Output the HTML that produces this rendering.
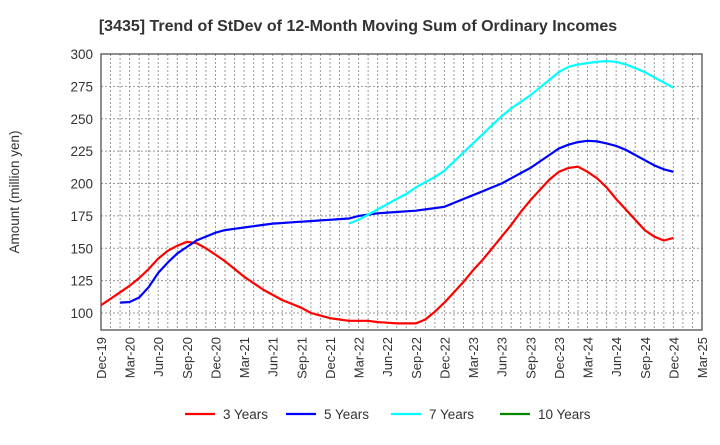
<!DOCTYPE html>
<html><head><meta charset="utf-8"><style>
body{margin:0;background:#fff;font-family:"Liberation Sans",sans-serif}
svg text{font-family:"Liberation Sans",sans-serif;fill:#333}
</style></head><body>
<svg id="c" width="720" height="440"></svg>
<script>
const xLabels=["Dec-19","Mar-20","Jun-20","Sep-20","Dec-20","Mar-21","Jun-21","Sep-21","Dec-21","Mar-22","Jun-22","Sep-22","Dec-22","Mar-23","Jun-23","Sep-23","Dec-23","Mar-24","Jun-24","Sep-24","Dec-24","Mar-25"];
const yTicks=[100,125,150,175,200,225,250,275,300];
const s3start=0;
const s3=[106,111,116,121,127,134,142,148,152,155,154,150,145,140,134,128,123,118,114,110,107,104,100,98,96,95,94,94,94,93,92.5,92,92,92,95,101,108,116,124,133,141,150,159,168,178,187,195,203,209,212,213,209,204,197,188,180,172,164,159,156,158];
const s5start=2;
const s5=[108,108.5,112,120,131,139,146,151,156,159,162,164,165,166,167,168,169,169.5,170,170.5,171,171.5,172,172.5,173,175,176,177,177.5,178,178.5,179,180,181,182,185,188,191,194,197,200,204,208,212,217,222,227,230,232,233,232.5,231,229,226,222,218,214,211,209];
const s7start=26;
const s7=[169,172,176,180,184,188,192,197,201,205,210,217,224,231,238,245,252,258,263,268,274,280,286,290,292,293,294,294.5,294,292,289,286,282,278,274];
const s10=[];
const NS="http://www.w3.org/2000/svg";
const svg=document.getElementById('c');
const L=101,R=702,T=54,B=330;
const mStep=(R-L)/63;
const xm=m=>L+m*mStep;
const yv=v=>313-(v-100)*(313-54)/200;
function el(t,a,p){const e=document.createElementNS(NS,t);for(const k in a)e.setAttribute(k,a[k]);(p||svg).appendChild(e);return e;}
const g=el('g',{});


for(let m=1;m<63;m++){el('line',{x1:xm(m),x2:xm(m),y1:T,y2:B,stroke:'#999','stroke-dasharray':'2,2','stroke-width':1},g);}
yTicks.forEach(v=>{const y=yv(v);el('line',{x1:L,x2:R,y1:y,y2:y,stroke:'#999','stroke-dasharray':'2,2','stroke-width':1},g);});
const fr=el('rect',{x:L,y:T,width:R-L,height:B-T,fill:'none',stroke:'#444','stroke-width':1.2});


yTicks.forEach(v=>{const t=el('text',{x:L-8,y:yv(v)+5,'text-anchor':'end','font-size':13.5});t.textContent=v;

});
xLabels.forEach((s,i)=>{const x=xm(i*3);const t=el('text',{transform:`translate(${x+5},${B+7}) rotate(-90)`,'text-anchor':'end','font-size':13});t.textContent=s;

});
function line(arr,start,color,name){const p=arr.map((v,i)=>(i?'L':'M')+xm(start+i).toFixed(1)+','+yv(v).toFixed(1)).join('');const e=el('path',{d:p,fill:'none',stroke:color,'stroke-width':2.2});

}
line(s3,s3start,'#f00','series-3-years');
line(s5,s5start,'#00f','series-5-years');
line(s7,s7start,'#0ff','series-7-years');
const title=el('text',{x:358,y:31,'text-anchor':'middle','font-size':16,'font-weight':'bold'});title.textContent='[3435]  Trend of StDev of 12-Month Moving Sum of Ordinary Incomes';


const yt=el('text',{transform:'translate(19,192) rotate(-90)','text-anchor':'middle','font-size':13.5});yt.textContent='Amount (million yen)';


const leg=[["3 Years","#f00",185],["5 Years","#00f",286],["7 Years","#0ff",391],["10 Years","#080",500]];
leg.forEach(([n,c,x])=>{const gg=el('g',{});


el('line',{x1:x,x2:x+30,y1:414,y2:414,stroke:c,'stroke-width':2.2},gg);const t=el('text',{x:x+38,y:419,'font-size':13.5},gg);t.textContent=n;});
</script>
</body></html>
